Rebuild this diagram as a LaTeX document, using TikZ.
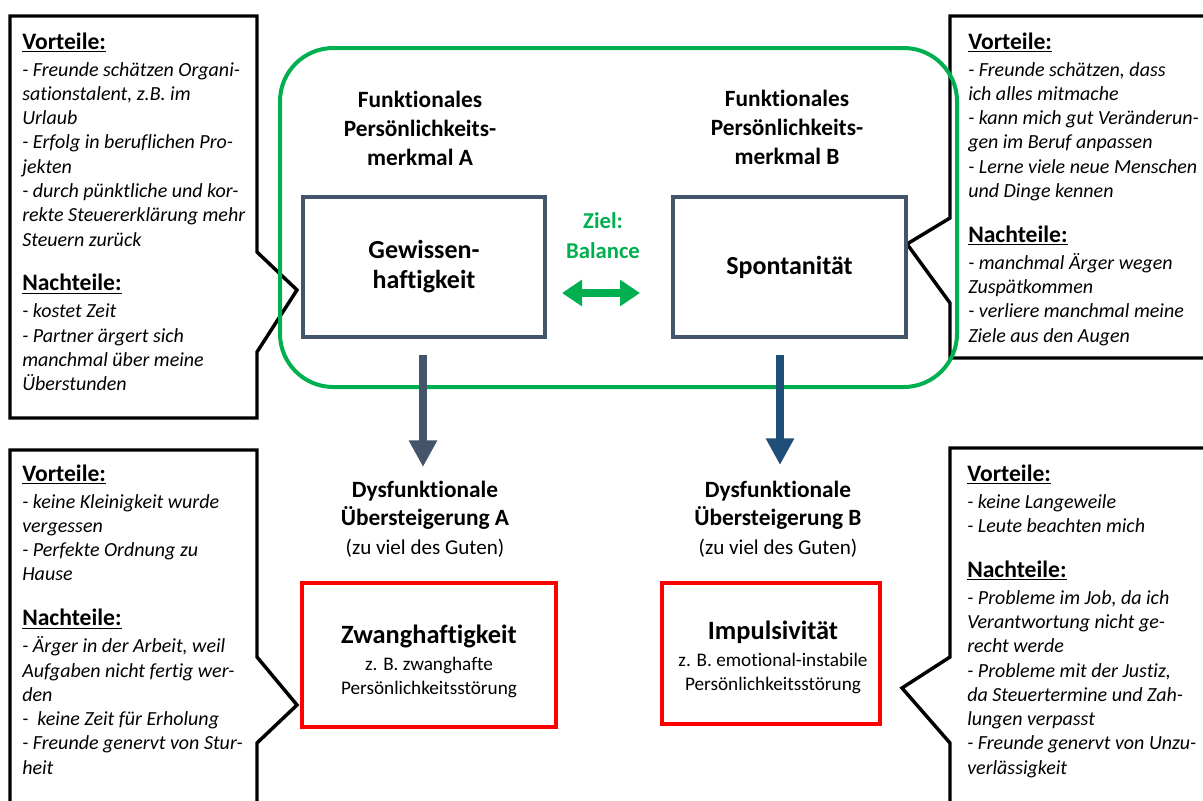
\documentclass[tikz,border=0pt]{standalone}
\usepackage{fontspec}
\setmainfont{Carlito}[Ligatures=NoCommon]
\usetikzlibrary{arrows.meta}
\definecolor{balgreen}{HTML}{00B050}
\definecolor{slate}{HTML}{44546A}
\definecolor{navy}{HTML}{1F4E79}
\definecolor{alarm}{HTML}{FF0000}
\newcommand\calloutHead[1]{{\fontsize{17.7}{18.2}\selectfont\bfseries\upshape\underline{#1}}}

\begin{document}
\begin{tikzpicture}[x=0.75pt,y=-0.75pt,
  callout/.style={draw=black, line width=2.6pt, line join=miter, fill=white},
  notes/.style={anchor=north west, inner sep=0pt, align=left,
    font=\fontsize{15}{18.2}\selectfont\itshape},
  traitbox/.style={draw=slate, line width=3pt, fill=white, inner sep=0pt,
    align=center, font=\fontsize{19.5}{22.5}\selectfont\bfseries},
  disorder/.style={draw=alarm, line width=3.4pt, inner sep=0pt},
  title/.style={inner sep=0pt, align=center, font=\fontsize{17.5}{21.75}\selectfont\bfseries},
  goal/.style={inner sep=0pt, align=center, text=balgreen,
    font=\fontsize{17}{22.5}\selectfont\bfseries},
  paren/.style={inner sep=0pt, font=\fontsize{15.8}{19}\selectfont},
  bigname/.style={inner sep=0pt, font=\fontsize{19.8}{22}\selectfont\bfseries},
  subname/.style={inner sep=0pt, align=center, font=\fontsize{14.4}{18}\selectfont},
  downarrow/.style={line width=6.5pt, -{Triangle[width=20pt,length=20pt]}},
]
\useasboundingbox (0,0) rectangle (1203,800);
\clip (0,0) rectangle (1203,800);

% speech-bubble outlines
\draw[callout] (10,16) -- (257,16) -- (257,252) -- (297,290) -- (257,352)
  -- (257,418) -- (10,418) -- cycle;
\draw[callout] (1215,16) -- (950,16) -- (950,218) -- (907,244) -- (950,303)
  -- (950,358) -- (1215,358);
\draw[callout] (10,815) -- (10,450) -- (257,450) -- (257,657) -- (297,705)
  -- (257,743) -- (257,815);
\draw[callout] (1215,448) -- (950,448) -- (950,657) -- (902,688) -- (950,743)
  -- (950,815);

% bubble texts
\node[notes] (notesTL) at (22,32) {\strut\calloutHead{Vorteile:}\\[2pt]
- Freunde schätzen Organi-\\
sationstalent, z.B. im\\
Urlaub\\
- Erfolg in beruflichen Pro-\\
jekten\\
- durch pünktliche und kor-\\
rekte Steuererklärung mehr\\
Steuern zurück\\[15.5pt]
\calloutHead{Nachteile:}\\[2pt]
- kostet Zeit\\
- Partner ärgert sich\\
manchmal über meine\\
Überstunden};

\node[notes] (notesTR) at (968,32) {\strut\calloutHead{Vorteile:}\\[2pt]
- Freunde schätzen, dass\\
ich alles mitmache\\
- kann mich gut Veränderun-\\
gen im Beruf anpassen\\
- Lerne viele neue Menschen\\
und Dinge kennen\\[15.5pt]
\calloutHead{Nachteile:}\\[2pt]
- manchmal Ärger wegen\\
Zuspätkommen\\
- verliere manchmal meine\\
Ziele aus den Augen};

\node[notes] (notesBL) at (22,464) {\strut\calloutHead{Vorteile:}\\[2pt]
- keine Kleinigkeit wurde\\
vergessen\\
- Perfekte Ordnung zu\\
Hause\\[15.5pt]
\calloutHead{Nachteile:}\\[2pt]
- Ärger in der Arbeit, weil\\
Aufgaben nicht fertig wer-\\
den\\
-~ keine Zeit für Erholung\\
- Freunde genervt von Stur-\\
heit};

\node[notes] (notesBR) at (967,464) {\strut\calloutHead{Vorteile:}\\[2pt]
- keine Langeweile\\
- Leute beachten mich\\[15.5pt]
\calloutHead{Nachteile:}\\[2pt]
- Probleme im Job, da ich\\
Verantwortung nicht ge-\\
recht werde\\
- Probleme mit der Justiz,\\
da Steuertermine und Zah-\\
lungen verpasst\\
- Freunde genervt von Unzu-\\
verlässigkeit};

% frame around the two functional traits
\node[draw=balgreen, line width=3pt, rounded corners=40pt,
  minimum width=677*0.75pt, minimum height=339*0.75pt] (balance) at (618.5,217.5) {};

% functional traits
\node[title] (traitA) at (420,128) {Funktionales\\Persönlichkeits-\\merkmal A};
\node[title] (traitB) at (787,127) {Funktionales\\Persönlichkeits-\\merkmal B};
\node[traitbox, minimum width=242*0.75pt, minimum height=140*0.75pt] (boxA)
  at (424,267) {Gewissen-\\haftigkeit};
\node[traitbox, minimum width=233*0.75pt, minimum height=140*0.75pt] (boxB)
  at (789.5,267) {Spontanität};

% balance goal
\node[goal] (goal) at (603,236) {Ziel:\\Balance};
\coordinate (balL) at (562,293);
\coordinate (balR) at (640,293);
\draw[balgreen, line width=5.5pt,
  {Triangle[width=19pt,length=15pt]}-{Triangle[width=19pt,length=15pt]}] (balL) -- (balR);

% downward arrows to the dysfunctional exaggerations
\coordinate (downA1) at (423,355);
\coordinate (downA2) at (423,467);
\coordinate (downB1) at (780,355);
\coordinate (downB2) at (780,465);
\draw[downarrow, slate] (downA1) -- (downA2);
\draw[downarrow, navy] (downB1) -- (downB2);

% dysfunctional exaggerations
\node[title, font=\fontsize{17.5}{21}\selectfont\bfseries] (dysA) at (425,505)
  {Dysfunktionale\\Übersteigerung A};
\node[paren] (gutA) at (425,548) {(zu viel des Guten)};
\node[title, font=\fontsize{17.5}{21}\selectfont\bfseries] (dysB) at (778,505)
  {Dysfunktionale\\Übersteigerung B};
\node[paren] (gutB) at (778,548) {(zu viel des Guten)};

% disorders
\node[disorder, minimum width=254*0.75pt, minimum height=144*0.75pt] (boxZ) at (429,655) {};
\node[bigname] (zwang) at (429,636) {Zwanghaftigkeit};
\node[subname] (zwangSub) at (429,677) {z. B. zwanghafte\\Persönlichkeitsstörung};
\node[disorder, minimum width=218*0.75pt, minimum height=141*0.75pt] (boxI) at (771,653.5) {};
\node[bigname] (impuls) at (773,632) {Impulsivität};
\node[subname] (impulsSub) at (773,673) {z. B. emotional-instabile\\Persönlichkeitsstörung};
\end{tikzpicture}
\end{document}
